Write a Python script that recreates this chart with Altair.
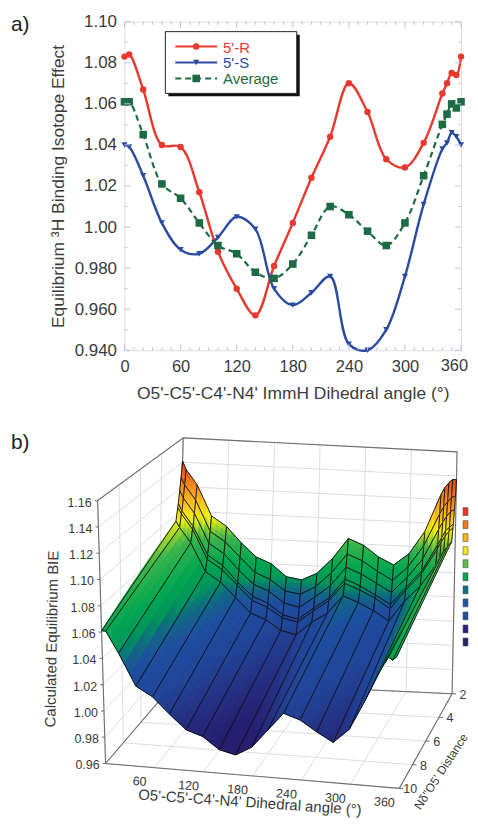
import altair as alt
import pandas as pd

# ---------- panel a data ----------
angles = [0, 5, 20, 40, 60, 80, 100, 120, 140, 160, 180, 200, 220, 240, 260, 280, 300, 320, 340, 345, 350, 355, 360]
r_values = [1.083, 1.084, 1.067, 1.040, 1.039, 1.017, 0.988, 0.970, 0.957, 0.981, 1.002, 1.024, 1.044, 1.070, 1.056, 1.033, 1.029, 1.041, 1.065, 1.070, 1.075, 1.074, 1.083]
s_values = [1.040, 1.039, 1.025, 1.002, 0.989, 0.987, 0.995, 1.005, 0.999, 0.970, 0.962, 0.968, 0.976, 0.943, 0.940, 0.950, 0.976, 1.011, 1.038, 1.041, 1.046, 1.044, 1.040]
avg_values = [1.061, 1.061, 1.045, 1.021, 1.014, 1.002, 0.991, 0.987, 0.978, 0.975, 0.982, 0.996, 1.010, 1.006, 0.998, 0.991, 1.002, 1.025, 1.050, 1.055, 1.060, 1.058, 1.061]
x_ticks = [0, 60, 120, 180, 240, 300, 360]
y_ticks = [0.94, 0.96, 0.98, 1.00, 1.02, 1.04, 1.06, 1.08, 1.10]

# ---------- panel b data (one row per N-O5' distance) ----------
distances = [2.0, 2.1, 2.2, 2.3, 2.35, 2.5, 10.0]
z_d20 = [1.141, 1.134, 1.122, 1.097, 1.089, 1.076, 1.065, 1.060, 1.050, 1.048, 1.054, 1.067, 1.084, 1.079, 1.070, 1.064, 1.074, 1.093, 1.124, 1.130, 1.134, 1.137, 1.137]
z_d21 = [1.128, 1.122, 1.110, 1.085, 1.077, 1.065, 1.053, 1.048, 1.039, 1.037, 1.044, 1.056, 1.072, 1.067, 1.059, 1.052, 1.064, 1.082, 1.109, 1.115, 1.119, 1.123, 1.124]
z_d22 = [1.118, 1.112, 1.100, 1.076, 1.068, 1.055, 1.044, 1.039, 1.030, 1.027, 1.036, 1.046, 1.062, 1.057, 1.050, 1.043, 1.056, 1.072, 1.097, 1.103, 1.108, 1.112, 1.114]
z_d23 = [1.108, 1.102, 1.090, 1.067, 1.059, 1.046, 1.035, 1.030, 1.021, 1.018, 1.028, 1.037, 1.053, 1.048, 1.041, 1.034, 1.049, 1.063, 1.085, 1.091, 1.097, 1.100, 1.103]
z_d235 = [1.105, 1.100, 1.088, 1.064, 1.056, 1.044, 1.032, 1.027, 1.019, 1.016, 1.026, 1.035, 1.050, 1.045, 1.039, 1.031, 1.047, 1.061, 1.082, 1.088, 1.093, 1.097, 1.100]
z_d25 = [1.095, 1.090, 1.078, 1.055, 1.047, 1.035, 1.023, 1.018, 1.010, 1.007, 1.018, 1.026, 1.041, 1.036, 1.030, 1.022, 1.039, 1.052, 1.070, 1.076, 1.082, 1.086, 1.090]
z_d100 = avg_values
z_rows = [z_d20, z_d21, z_d22, z_d23, z_d235, z_d25, z_d100]

z_ticks = [0.96, 0.98, 1.00, 1.02, 1.04, 1.06, 1.08, 1.10, 1.12, 1.14, 1.16]
b_x_ticks = [60, 120, 180, 240, 300, 360]
d_ticks = [2, 4, 6, 8, 10]

colour_stops = [(0.97, (40, 28, 105)), (0.985, (38, 32, 115)), (1.0, (35, 52, 135)), (1.012, (32, 68, 152)), (1.03, (30, 78, 160)),
                (1.04, (15, 105, 130)), (1.048, (0, 150, 90)), (1.06, (0, 165, 80)), (1.08, (60, 180, 75)),
                (1.095, (245, 240, 20)), (1.11, (250, 180, 30)), (1.125, (240, 120, 30)), (1.14, (230, 50, 30))]
swatches = ["#e8352a", "#ee7a22", "#f5b025", "#f2ea1c", "#5fb848", "#0aa552", "#0f6e85", "#1e55a5", "#234a9c", "#241f7e", "#28246e"]

FONT = "Liberation Sans"
W, H = 338, 330
OX, OY = 124, 20            # page position of panel a's plot area
BY = 400                    # page y of panel b's origin


def base_df(values):
    return pd.DataFrame({"angle": angles, "v": values})


def sx():
    return alt.X("angle:Q", scale=alt.Scale(domain=[0, 360], nice=False),
                 axis=alt.Axis(values=x_ticks, title="O5'-C5'-C4'-N4' ImmH Dihedral angle (°)", titleFontSize=17.5, titleFont=FONT,
                               titleColor="#3c3c3c", titleFontWeight="normal", titlePadding=10,
                               labelFont=FONT, labelFontSize=16.5, labelColor="#3a3a3a", ticks=False, domain=False, grid=False, labelPadding=8, labelOverlap=False, labelFlush=False,
                               labelExpr="datum.value == 360 ? '' : datum.label"))


def sy():
    return alt.Y("v:Q", scale=alt.Scale(domain=[0.94, 1.10], nice=False),
                 axis=alt.Axis(values=y_ticks, title="Equilibrium ³H Binding Isotope Effect", titleFontSize=17.5, titleFont=FONT,
                               titleColor="#3c3c3c", titleFontWeight="normal", titlePadding=7,
                               labelFont=FONT, labelFontSize=17, labelColor="#3a3a3a", ticks=False, domain=False, grid=False, labelPadding=8,
                               labelOverlap=False, labelFlush=False,
                               labelExpr="datum.value >= 1 ? format(datum.value, '.2f') : format(datum.value, '.3f')"))


RED, BLUE, GREEN = "#e8392f", "#2b4ba0", "#1d6b42"
TICK = "#bcc2e0"
layers = []
line_a = alt.Chart(base_df(r_values)).mark_line(color=RED, strokeWidth=2.4, interpolate="catmull-rom").encode(x=sx(), y=sy())
layers.append(line_a)
layers.append(alt.Chart(base_df(r_values)).mark_point(color=RED, filled=True, size=42, opacity=1, shape="circle").encode(x=sx(), y=sy()))
layers.append(alt.Chart(base_df(s_values)).mark_line(color=BLUE, strokeWidth=2.4, interpolate="catmull-rom").encode(x=sx(), y=sy()))
layers.append(alt.Chart(base_df(s_values)).mark_point(color=BLUE, filled=True, size=38, opacity=1, shape="triangle-down").encode(x=sx(), y=sy()))
layers.append(alt.Chart(base_df(avg_values)).mark_line(color=GREEN, strokeWidth=2.2, strokeDash=[6, 4], interpolate="catmull-rom").encode(x=sx(), y=sy()))
layers.append(alt.Chart(base_df(avg_values)).mark_point(color=GREEN, filled=True, size=58, opacity=1, shape="square").encode(x=sx(), y=sy()))

xt = pd.DataFrame({"angle": list(range(0, 361, 10))})
xt["len"] = [6 if a % 60 == 0 else 3 for a in xt["angle"]]
yt = pd.DataFrame({"v": [0.94 + 0.01 * i for i in range(17)]})
yt["len"] = [6 if i % 2 == 0 else 3 for i in range(17)]
for ln in (3, 6):
    xs = xt[xt["len"] == ln]
    ys = yt[yt["len"] == ln]
    layers.append(alt.Chart(xs).mark_rule(color=TICK, strokeWidth=1).encode(x=sx(), y=alt.value(H), y2=alt.value(H - ln)))
    layers.append(alt.Chart(xs).mark_rule(color=TICK, strokeWidth=1).encode(x=sx(), y=alt.value(0), y2=alt.value(ln)))
    layers.append(alt.Chart(ys).mark_rule(color=TICK, strokeWidth=1).encode(y=sy(), x=alt.value(0), x2=alt.value(ln)))
    layers.append(alt.Chart(ys).mark_rule(color=TICK, strokeWidth=1).encode(y=sy(), x=alt.value(W), x2=alt.value(W - ln)))

# last x label kept inside the page
layers.append(alt.Chart(pd.DataFrame({"t": ["360"]})).mark_text(color="#3a3a3a", font=FONT, fontSize=16.5, align="right", baseline="top").encode(
    x=alt.value(W + 7), y=alt.value(H + 8), text="t:N"))

# hand-drawn legend box
one = pd.DataFrame({"k": [0]})
LX0, LY0 = 165 - OX, 30 - OY
layers.append(alt.Chart(one).mark_rect(color="#111111").encode(x=alt.value(LX0 + 3), x2=alt.value(LX0 + 135), y=alt.value(LY0 + 3), y2=alt.value(LY0 + 65)))
layers.append(alt.Chart(one).mark_rect(fill="white", stroke="#222222", strokeWidth=1).encode(x=alt.value(LX0), x2=alt.value(LX0 + 132), y=alt.value(LY0), y2=alt.value(LY0 + 62)))
entries = [("5'-R", RED, 45, "circle", 42, None), ("5'-S", BLUE, 61, "triangle-down", 38, None), ("Average", GREEN, 77, "square", 58, [6, 4])]
for label, col, py, shape, size, dash in entries:
    y = py - OY
    kw = {"strokeDash": dash} if dash else {}
    layers.append(alt.Chart(one).mark_rule(color=col, strokeWidth=2, **kw).encode(x=alt.value(175 - OX), x2=alt.value(217 - OX), y=alt.value(y)))
    layers.append(alt.Chart(one).mark_point(color=col, filled=True, opacity=1, size=size, shape=shape).encode(x=alt.value(196 - OX), y=alt.value(y)))
    layers.append(alt.Chart(pd.DataFrame({"t": [label]})).mark_text(color=col, font=FONT, fontSize=15, align="left", baseline="middle").encode(x=alt.value(223 - OX), y=alt.value(y + 1), text="t:N"))
layers.append(alt.Chart(pd.DataFrame({"t": ["a)"]})).mark_text(color="#222222", font=FONT, fontSize=21, align="left", baseline="alphabetic").encode(x=alt.value(10 - OX), y=alt.value(29 - OY), text="t:N"))

panel_a = alt.layer(*layers).properties(width=W, height=H)

# ---------- panel b: 3-D projection of the data ----------
C = {(0, 0, 0): (105, 765), (1, 0, 0): (400, 790), (1, 1, 0): (453, 695), (0, 1, 0): (176, 682),
     (0, 0, 1): (97, 501), (1, 0, 1): (395, 528), (1, 1, 1): (458, 452), (0, 1, 1): (183, 438)}


def project(angle, dist, z):
    u, v, w = angle / 360, (10 - dist) / 8, (z - 0.96) / 0.2
    px = py = 0.0
    for (a, b, c), (cx, cy) in C.items():
        f = (u if a else 1 - u) * (v if b else 1 - v) * (w if c else 1 - w)
        px += f * cx
        py += f * cy
    return [round(px, 2), round(py, 2)]


def colour(z):
    if z <= colour_stops[0][0]:
        return "rgb(%d,%d,%d)" % colour_stops[0][1]
    for (z0, c0), (z1, c1) in zip(colour_stops, colour_stops[1:]):
        if z <= z1:
            t = (z - z0) / (z1 - z0)
            return "rgb(%d,%d,%d)" % tuple(round(p + t * (q - p)) for p, q in zip(c0, c1))
    return "rgb(%d,%d,%d)" % colour_stops[-1][1]


def feature(coords, fill, stroke, sw):
    return {"type": "Feature", "properties": {"fill": fill, "stroke": stroke, "sw": sw},
            "geometry": {"type": "Polygon", "coordinates": [coords + [coords[0]]]}}


def line_feature(coords, stroke, sw):
    return {"type": "Feature", "properties": {"fill": "transparent", "stroke": stroke, "sw": sw},
            "geometry": {"type": "LineString", "coordinates": coords}}


features = []
WALL = "#d8dde6"
EDGE = "#6e6e6e"
# wall and floor grids
for a in range(0, 361, 60):
    features.append(line_feature([project(a, 2, 0.96), project(a, 2, 1.16)], WALL, 1))
    features.append(line_feature([project(a, 2, 0.96), project(a, 10, 0.96)], WALL, 1))
for d in d_ticks:
    features.append(line_feature([project(0, d, 0.96), project(0, d, 1.16)], WALL, 1))
    features.append(line_feature([project(0, d, 0.96), project(360, d, 0.96)], WALL, 1))
for z in z_ticks:
    features.append(line_feature([project(0, 10, z), project(0, 2, z), project(360, 2, z)], WALL, 1))
# box edges
features.append(line_feature([project(0, 10, 0.96), project(0, 10, 1.16), project(0, 2, 1.16), project(360, 2, 1.16), project(360, 2, 0.96)], EDGE, 1.1))
features.append(line_feature([project(0, 2, 1.16), project(0, 2, 1.12)], EDGE, 1.1))
features.append(line_feature([project(0, 2, 0.96), project(0, 10, 0.96), project(360, 10, 0.96), project(360, 2, 0.96), project(0, 2, 0.96)], EDGE, 1.1))
for t in d_ticks:
    p = project(360, t, 0.96)
    features.append(line_feature([p, [p[0] + 4, p[1]]], EDGE, 1))
for z in z_ticks:
    p = project(0, 10, z)
    features.append(line_feature([p, [p[0] - 3, p[1]]], EDGE, 1))

# surface, far corner first
for i in range(len(angles) - 1):
    for j in range(len(distances) - 1):
        n_d = 20 if j == len(distances) - 2 else 3
        n_a = 3 if angles[i + 1] - angles[i] > 5 else 1
        a0, a1, d0, d1 = angles[i], angles[i + 1], distances[j], distances[j + 1]
        z00, z10 = z_rows[j][i], z_rows[j][i + 1]
        z01, z11 = z_rows[j + 1][i], z_rows[j + 1][i + 1]

        def sample(s, t):
            zz = (1 - s) * (1 - t) * z00 + s * (1 - t) * z10 + (1 - s) * t * z01 + s * t * z11
            return a0 + s * (a1 - a0), d0 + t * (d1 - d0), zz

        for si in range(n_a):
            for ti in range(n_d):
                s0, s1, t0, t1 = si / n_a, (si + 1) / n_a, ti / n_d, (ti + 1) / n_d
                poly = [project(*sample(s0, t0)), project(*sample(s1, t0)), project(*sample(s1, t1)), project(*sample(s0, t1))]
                col = colour(sample((s0 + s1) / 2, (t0 + t1) / 2)[2])
                features.append(feature(poly, col, col, 1.0))
        outline = [project(a0, d0, z00), project(a1, d0, z10), project(a1, d1, z11), project(a0, d1, z01)]
        features.append(feature(outline, "transparent", "#101010", 0.9))

geo = alt.Chart(alt.InlineData(values={"type": "FeatureCollection", "features": features},
                               format=alt.DataFormat(property="features", type="json"))).mark_geoshape(clip=False).encode(
    color=alt.Color("properties.fill:N", scale=None, legend=None),
    stroke=alt.Stroke("properties.stroke:N", scale=None, legend=None),
    strokeWidth=alt.StrokeWidth("properties.sw:Q", scale=None, legend=None),
).project(type="identity", scale=1, translate=[-OX, -BY], reflectY=False)


def text_layer(rows, size, colour_="#3a3a3a"):
    df = pd.DataFrame(rows, columns=["x", "y", "t", "ang", "al"])
    df["x"] -= OX
    df["y"] -= BY
    out = []
    for al, g in df.groupby("al"):
        out.append(alt.Chart(g).mark_text(font=FONT, fontSize=size, color=colour_, align=al, baseline="middle").encode(
            x=alt.X("x:Q", scale=None, axis=None), y=alt.Y("y:Q", scale=None, axis=None),
            text="t:N", angle=alt.Angle("ang:Q", scale=None)))
    return out


tick_rows = []
for z in z_ticks:
    p = project(0, 10, z)
    tick_rows.append((p[0] - 6, p[1] + 2, f"{z:.2f}", 0, "right"))
for a in b_x_ticks:
    p = project(a, 10, 0.96)
    tick_rows.append((p[0] - 15, p[1] + 14, str(a), 4, "center"))
for d in d_ticks:
    p = project(360, d, 0.96)
    tick_rows.append((p[0] + 11, p[1] + 1, str(d), 0, "center"))

bottom_title = [(250, 804, "O5'-C5'-C4'-N4' Dihedral angle (°)", 4, "center"),
                (51, 640, "Calculated Equilibrium BIE", 271, "center")]
side_title = [(418, 810, "Nδ''O5' Distance", 303, "left")]

sw_df = pd.DataFrame({"c": swatches, "i": range(len(swatches))})
sw_df["y0"] = 508 - BY + sw_df["i"] * 13.1
sw_df["y1"] = sw_df["y0"] + 8
sw_df["x0"] = 464 - OX
sw_df["x1"] = 469 - OX
sw = alt.Chart(sw_df).mark_rect(stroke="#555555", strokeWidth=0.6).encode(
    x=alt.X("x0:Q", scale=None, axis=None), x2="x1:Q", y=alt.Y("y0:Q", scale=None, axis=None), y2="y1:Q",
    fill=alt.Fill("c:N", scale=None, legend=None))

b_label = alt.Chart(pd.DataFrame({"t": ["b)"]})).mark_text(color="#222222", font=FONT, fontSize=21, align="left", baseline="alphabetic").encode(
    x=alt.value(10 - OX), y=alt.value(449 - BY), text="t:N")

panel_b = alt.layer(geo, *text_layer(tick_rows, 12.5), *text_layer(bottom_title, 15), *text_layer(side_title, 12), sw, b_label).properties(
    width=W, height=400, view=alt.ViewBackground(stroke="transparent")).resolve_scale(x="independent", y="independent")

chart = alt.vconcat(panel_a, panel_b, spacing=BY - OY - H, bounds="flush").properties(padding={"left": 2, "top": 2, "right": -1, "bottom": -3}).configure_view(stroke=TICK, strokeWidth=1.2).configure(background="white")

chart.save("out.html", embed_options={"renderer": "svg", "actions": False})
